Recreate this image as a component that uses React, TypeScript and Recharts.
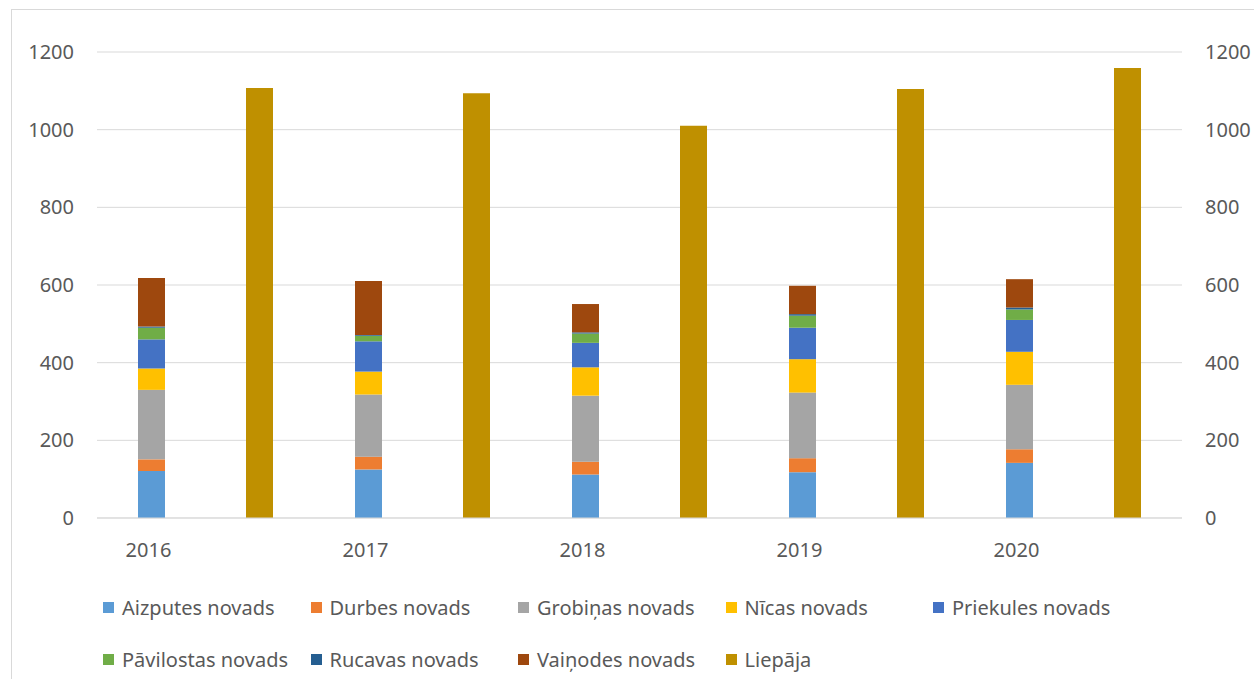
import React from "react";
import { BarChart, Bar, XAxis, YAxis, CartesianGrid } from "recharts";

const years = ["2016", "2017", "2018", "2019", "2020"];

const aizputes = [121, 125, 112, 118, 142];
const durbes = [30, 33, 33, 36, 35];
const grobinas = [179, 160, 170, 169, 166];
const nicas = [55, 59, 73, 86, 85];
const priekules = [75, 78, 63, 81, 82];
const pavilostas = [30, 14, 24, 31, 27];
const rucavas = [3, 2, 3, 4, 5];
const vainodes = [125, 139, 73, 73, 73];
const liepaja = [1107, 1094, 1010, 1105, 1159];

const yTicks = [0, 200, 400, 600, 800, 1000, 1200];

const stacked = [
  { key: "aizputes", name: "Aizputes novads", values: aizputes, color: "#5B9BD5" },
  { key: "durbes", name: "Durbes novads", values: durbes, color: "#ED7D31" },
  { key: "grobinas", name: "Grobiņas novads", values: grobinas, color: "#A5A5A5" },
  { key: "nicas", name: "Nīcas novads", values: nicas, color: "#FFC000" },
  { key: "priekules", name: "Priekules novads", values: priekules, color: "#4472C4" },
  { key: "pavilostas", name: "Pāvilostas novads", values: pavilostas, color: "#70AD47" },
  { key: "rucavas", name: "Rucavas novads", values: rucavas, color: "#255E91" },
  { key: "vainodes", name: "Vaiņodes novads", values: vainodes, color: "#9E480E" },
];
const city = { key: "liepaja", name: "Liepāja", values: liepaja, color: "#BF9000" };

const allSeries = [...stacked, city];

const data = years.map((year, i) => {
  const row: Record<string, string | number> = { year };
  allSeries.forEach((s) => {
    row[s.key] = s.values[i];
  });
  return row;
});

const FONT = "'Noto Sans', sans-serif";
const TEXT = "#595959";
const GRID = "#d9d9d9";

const YearTick = (props: any) => {
  const { x, y, payload } = props;
  return (
    <text x={x - 57} y={y} dy="0.71em" textAnchor="middle" fill={TEXT} fontSize={20} fontFamily={FONT}>
      {payload.value}
    </text>
  );
};

export default function App() {
  return (
    <div style={{ position: "absolute", left: 0, top: 0, width: 1254, height: 679, overflow: "hidden", background: "#fff" }}>
      <div
        style={{
          position: "absolute",
          left: 11,
          top: 9,
          width: 1243,
          height: 670,
          borderLeft: `1px solid ${GRID}`,
          borderTop: `1px solid ${GRID}`,
        }}
      />
      <BarChart
        width={1254}
        height={679}
        data={data}
        margin={{ top: 52, right: 0, left: 0, bottom: 0 }}
        barSize={27}
        barGap={81}
        style={{ position: "absolute", left: 0, top: 0 }}
      >
        <CartesianGrid yAxisId="left" vertical={false} stroke={GRID} />
        <XAxis
          dataKey="year"
          height={161}
          axisLine={{ stroke: GRID }}
          tickLine={false}
          tickMargin={19}
          tick={<YearTick />}
        />
        <YAxis
          yAxisId="left"
          width={97}
          domain={[0, 1200]}
          ticks={yTicks}
          axisLine={false}
          tickLine={false}
          tickMargin={17}
          tick={{ fill: TEXT, fontSize: 20, fontFamily: FONT }}
        />
        <YAxis
          yAxisId="right"
          orientation="right"
          width={72}
          domain={[0, 1200]}
          ticks={yTicks}
          axisLine={false}
          tickLine={false}
          tickMargin={17}
          tick={{ fill: TEXT, fontSize: 20, fontFamily: FONT, textAnchor: "start" }}
        />
        {stacked.map((s) => (
          <Bar
            key={s.key}
            dataKey={s.key}
            name={s.name}
            stackId="a"
            yAxisId="left"
            fill={s.color}
            isAnimationActive={false}
          />
        ))}
        <Bar dataKey={city.key} name={city.name} yAxisId="right" fill={city.color} isAnimationActive={false} />
      </BarChart>
      {allSeries.map((s, i) => {
        const col = i % 5;
        const row = Math.floor(i / 5);
        return (
          <div
            key={s.key}
            style={{
              position: "absolute",
              left: 103 + col * 207.5,
              top: 607 + row * 52 - 14,
              height: 28,
              display: "flex",
              alignItems: "center",
              fontFamily: FONT,
              fontSize: 20,
              color: TEXT,
              whiteSpace: "nowrap",
            }}
          >
            <span style={{ display: "inline-block", width: 11, height: 11, background: s.color, marginRight: 8 }} />
            {s.name}
          </div>
        );
      })}
    </div>
  );
}
